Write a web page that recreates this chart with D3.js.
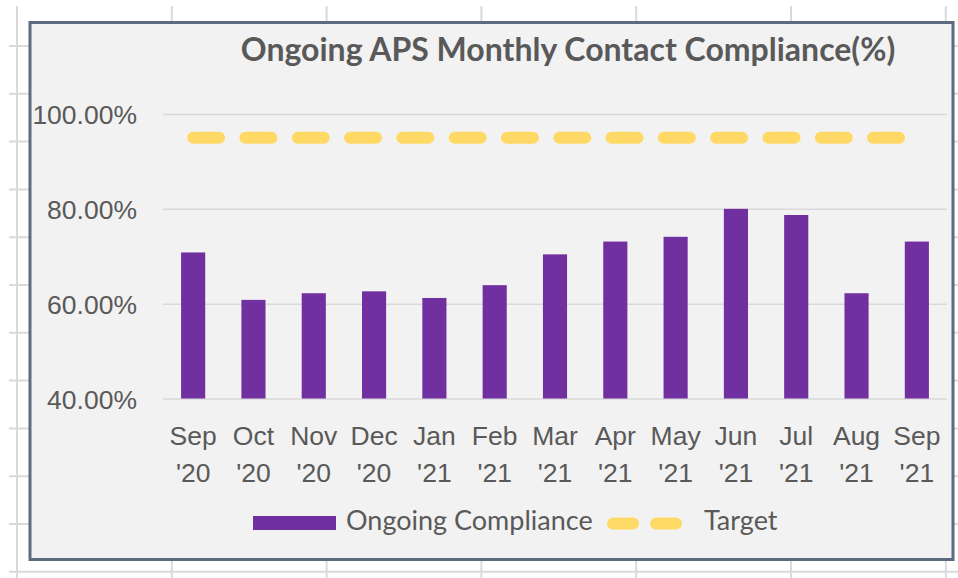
<!DOCTYPE html>
<html>
<head>
<meta charset="utf-8">
<script src="https://cdn.jsdelivr.net/npm/d3@7"></script>
<style>
    body { margin: 0; background: #ffffff; }
    svg { display: block; font-family: Lato, "Open Sans", sans-serif; }
    .axis text { fill: #595959; font-size: 26.5px; }
    .legend text { fill: #595959; font-size: 27px; }
</style>
</head>
<body>
<svg id="chart"></svg>
<script>
// months on the x axis
const months = ["Sep '20", "Oct '20", "Nov '20", "Dec '20", "Jan '21", "Feb '21", "Mar '21",
    "Apr '21", "May '21", "Jun '21", "Jul '21", "Aug '21", "Sep '21"];

// ongoing compliance (%)
const compliance = [70.8, 60.8, 62.2, 62.6, 61.2, 63.9, 70.4, 73.1, 74.1, 80.0, 78.7, 62.2, 73.1];

// target (%)
const target = [95, 95, 95, 95, 95, 95, 95, 95, 95, 95, 95, 95, 95];

const yTicks = [40, 60, 80, 100];
const yDomain = [40, 100];

const chartTitle = "Ongoing APS Monthly Contact Compliance(%)";
const legendNames = ["Ongoing Compliance", "Target"];

class barChart {
    constructor(_config) {
        this.config = {
            parentElement: _config.parentElement,
            containerWidth: _config.containerWidth,
            containerHeight: _config.containerHeight,
            margin: { top: 114, bottom: 179.5, right: 11, left: 163 }
        };
        this.initVis();
    }

    initVis() {
        let vis = this;

        vis.width = vis.config.containerWidth - vis.config.margin.left - vis.config.margin.right;
        vis.height = vis.config.containerHeight - vis.config.margin.top - vis.config.margin.bottom;

        vis.svg = d3.select(vis.config.parentElement)
            .attr('width', vis.config.containerWidth)
            .attr('height', vis.config.containerHeight);

        // spreadsheet cells behind the chart
        const sheet = vis.svg.append('g')
            .attr('stroke', '#dadada')
            .attr('stroke-width', 2);
        sheet.selectAll('.col')
            .data(d3.range(17, 958, 154.8))
            .join('line')
            .attr('x1', d => d).attr('x2', d => d)
            .attr('y1', 6).attr('y2', 578);
        sheet.selectAll('.row')
            .data(d3.range(46, 578, 47.8))
            .join('line')
            .attr('y1', d => d).attr('y2', d => d)
            .attr('x1', 9).attr('x2', 958);

        // chart frame
        vis.svg.append('rect')
            .attr('x', 30)
            .attr('y', 22.5)
            .attr('width', 923)
            .attr('height', 537)
            .attr('fill', '#f2f2f2')
            .attr('stroke', '#5c6b80')
            .attr('stroke-width', 3);

        vis.svg.append('text')
            .attr('x', 568)
            .attr('y', 61)
            .attr('text-anchor', 'middle')
            .style('font-size', '32px')
            .style('font-weight', 'bold')
            .style('fill', '#595959')
            .text(chartTitle);

        vis.chart = vis.svg.append('g')
            .attr('transform', `translate(${vis.config.margin.left},${vis.config.margin.top})`);

        vis.xScale = d3.scaleBand()
            .domain(months)
            .range([0, vis.width])
            .padding(0);

        vis.yScale = d3.scaleLinear()
            .domain(yDomain)
            .range([vis.height, 0]);

        vis.yAxis = d3.axisLeft(vis.yScale)
            .tickValues(yTicks)
            .tickSize(-vis.width)
            .tickPadding(26)
            .tickFormat(d => d.toFixed(2) + '%');

        vis.xAxis = d3.axisBottom(vis.xScale)
            .tickSize(0)
            .tickPadding(0);

        vis.yAxisG = vis.chart.append('g')
            .attr('class', 'axis y-axis')
            .call(vis.yAxis)
            .call(g => g.select('.domain').remove());
        vis.yAxisG.selectAll('.tick line')
            .attr('stroke', '#d9d9d9')
            .attr('stroke-width', 1.5);
        vis.yAxisG.selectAll('.tick text')
            .attr('dy', '0.36em');

        vis.xAxisG = vis.chart.append('g')
            .attr('class', 'axis x-axis')
            .attr('transform', `translate(0,${vis.height})`)
            .call(vis.xAxis)
            .call(g => g.select('.domain').remove());

        // two line labels: month / year
        vis.xAxisG.selectAll('.tick text').each(function(d) {
            const t = d3.select(this).text(null).attr('y', null).attr('dy', null);
            d.split(' ').forEach((part, i) => {
                t.append('tspan')
                    .attr('x', 0)
                    .attr('y', 46.5 + i * 37)
                    .text(part);
            });
        });

        vis.updateVis();
    }

    updateVis() {
        let vis = this;
        const bw = vis.xScale.bandwidth();

        vis.chart.selectAll('.bar')
            .data(compliance)
            .join('rect')
            .attr('class', 'bar')
            .attr('x', (d, i) => vis.xScale(months[i]) + bw * 0.3)
            .attr('width', bw * 0.4)
            .attr('y', d => vis.yScale(d))
            .attr('height', d => vis.height - vis.yScale(d))
            .attr('fill', '#7030a0');

        const line = d3.line()
            .x((d, i) => vis.xScale(months[i]) + bw / 2)
            .y(d => vis.yScale(d));

        vis.chart.append('path')
            .datum(target)
            .attr('d', line)
            .attr('fill', 'none')
            .attr('stroke', '#ffd966')
            .attr('stroke-width', 12)
            .attr('stroke-linecap', 'round')
            .attr('stroke-dasharray', '26,26.3');

        // legend
        const legend = vis.svg.append('g').attr('class', 'legend');
        legend.append('rect')
            .attr('x', 253).attr('y', 516)
            .attr('width', 83).attr('height', 14)
            .attr('fill', '#7030a0');
        legend.append('text')
            .attr('x', 346).attr('y', 530)
            .text(legendNames[0]);
        legend.append('line')
            .attr('x1', 613).attr('x2', 677)
            .attr('y1', 523.5).attr('y2', 523.5)
            .attr('stroke', '#ffd966')
            .attr('stroke-width', 12)
            .attr('stroke-linecap', 'round')
            .attr('stroke-dasharray', '20,23');
        legend.append('text')
            .attr('x', 704).attr('y', 530)
            .text(legendNames[1]);
    }
}

new barChart({ parentElement: '#chart', containerWidth: 958, containerHeight: 578 });
</script>
</body>
</html>
